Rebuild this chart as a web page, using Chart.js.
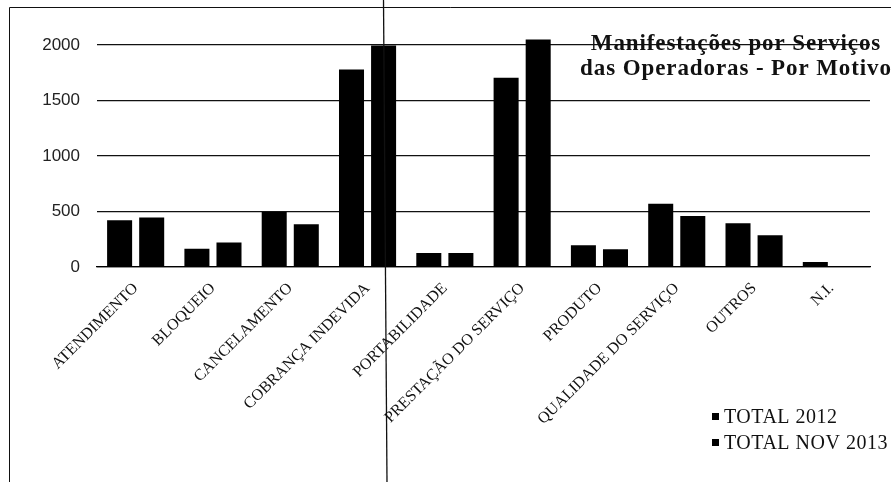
<!DOCTYPE html>
<html>
<head>
<meta charset="utf-8">
<script src="https://cdn.jsdelivr.net/npm/chart.js@4/dist/chart.umd.min.js"></script>
<style>
  html, body { margin: 0; padding: 0; background: #fff; }
  #wrap { position: relative; width: 891px; height: 482px; }
  canvas { display: block; }
</style>
</head>
<body>
<div id="wrap"><canvas id="c" width="891" height="482"></canvas></div>
<script>
const categories = ['ATENDIMENTO', 'BLOQUEIO', 'CANCELAMENTO', 'COBRANÇA INDEVIDA', 'PORTABILIDADE',
  'PRESTAÇÃO DO SERVIÇO', 'PRODUTO', 'QUALIDADE DO SERVIÇO', 'OUTROS', 'N.I.'];
const seriesNames = ['TOTAL 2012', 'TOTAL NOV 2013'];
const total2012 = [420, 165, 495, 1780, 125, 1705, 195, 570, 395, 45];
const totalNov2013 = [445, 220, 385, 1995, 125, 2050, 160, 460, 285, 0];
const yTicks = [0, 500, 1000, 1500, 2000];
const titleLines = ['Manifestações por Serviços', 'das Operadoras - Por Motivo'];

const decorations = {
  id: 'decorations',
  beforeDraw(chart) {
    const ctx = chart.ctx;
    ctx.save();
    ctx.fillStyle = '#fff';
    ctx.fillRect(0, 0, chart.width, chart.height);
    ctx.strokeStyle = '#111';
    ctx.lineWidth = 1;
    ctx.beginPath();
    ctx.moveTo(9.5, 482);
    ctx.lineTo(9.5, 7.5);
    ctx.lineTo(891, 7.5);
    ctx.stroke();
    ctx.restore();
  },
  afterDraw(chart) {
    const ctx = chart.ctx;
    ctx.save();
    // title
    ctx.fillStyle = '#111';
    ctx.font = 'bold 23px "Liberation Serif", "Times New Roman", serif';
    ctx.textAlign = 'center';
    ctx.textBaseline = 'alphabetic';
    try { ctx.letterSpacing = '0.9px'; } catch (e) {}
    ctx.fillText(titleLines[0], 736, 50);
    ctx.fillText(titleLines[1], 736, 75);
    // legend
    try { ctx.letterSpacing = '0.5px'; } catch (e) {}
    ctx.font = '20px "Liberation Serif", "Times New Roman", serif';
    ctx.textAlign = 'left';
    ctx.textBaseline = 'middle';
    const ys = [417, 443];
    seriesNames.forEach((n, i) => {
      ctx.fillStyle = chart.data.datasets[i].backgroundColor;
      ctx.fillRect(712, ys[i] - 4, 7, 7);
      ctx.fillStyle = '#111';
      ctx.fillText(n, 724, ys[i] + 1);
    });
    try { ctx.letterSpacing = '0px'; } catch (e) {}
    // scan fold line
    ctx.strokeStyle = '#111';
    ctx.lineWidth = 1.3;
    ctx.beginPath();
    ctx.moveTo(383.5, 0);
    ctx.lineTo(387, 482);
    ctx.stroke();
    ctx.restore();
  }
};

new Chart(document.getElementById('c'), {
  type: 'bar',
  data: {
    labels: categories,
    datasets: [
      { label: seriesNames[0], data: total2012, backgroundColor: '#000', borderWidth: 0 },
      { label: seriesNames[1], data: totalNov2013, backgroundColor: '#000', borderWidth: 0 }
    ]
  },
  options: {
    responsive: false,
    animation: false,
    devicePixelRatio: 1,
    layout: { padding: { left: 8, top: 10, right: 21, bottom: 0 } },
    plugins: { legend: { display: false }, tooltip: { enabled: false }, title: { display: false } },
    datasets: { bar: { categoryPercentage: 0.83, barPercentage: 0.78 } },
    scales: {
      x: {
        grid: { display: false, drawTicks: false },
        border: { display: true, color: '#000', width: 1.3 },
        ticks: {
          autoSkip: false,
          maxRotation: 45,
          minRotation: 45,
          padding: 12,
          color: '#111',
          font: { family: '"Liberation Serif", "Times New Roman", serif', size: 16 }
        },
        afterFit(scale) { scale.height = 215; }
      },
      y: {
        min: 0,
        max: 2160,
        afterBuildTicks(scale) { scale.ticks = yTicks.map(v => ({ value: v })); },
        grid: { color: '#111', lineWidth: 1.2, drawTicks: false },
        border: { display: false },
        ticks: {
          padding: 17,
          color: '#222',
          callback: (v) => String(v),
          font: { family: '"Liberation Sans", Arial, sans-serif', size: 17 }
        },
        afterFit(scale) { scale.width = 89; }
      }
    }
  },
  plugins: [decorations]
});
</script>
</body>
</html>
